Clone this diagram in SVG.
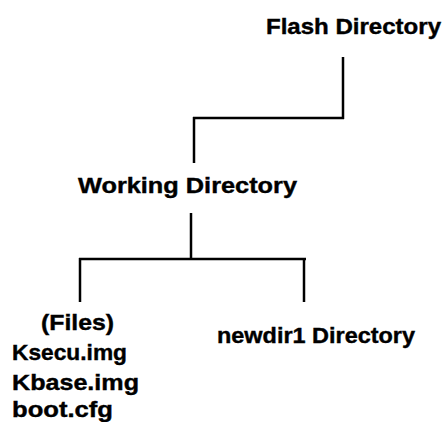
<svg xmlns="http://www.w3.org/2000/svg" width="448" height="422" viewBox="0 0 448 422">
<style>
text{font-family:"Liberation Sans",Arial,sans-serif;font-weight:bold;font-size:22px;fill:#000;stroke:#000;stroke-width:0.4}
.c line{stroke:#000;stroke-width:2.5;fill:none}
</style>
<rect width="448" height="422" fill="#fff"/>
<g class="c" id="connectors">
<line x1="343" y1="57" x2="343" y2="119"/>
<line x1="193" y1="118" x2="344" y2="118"/>
<line x1="194" y1="117" x2="194" y2="163"/>
<line x1="191" y1="213" x2="191" y2="259"/>
<line x1="79" y1="259" x2="306" y2="259"/>
<line x1="80" y1="258" x2="80" y2="302"/>
<line x1="304" y1="258" x2="304" y2="302"/>
</g>
<g id="flash"><text x="266" y="34" textLength="175" lengthAdjust="spacingAndGlyphs">Flash Directory</text></g>
<g id="working"><text x="78" y="193" textLength="219" lengthAdjust="spacingAndGlyphs">Working Directory</text></g>
<g id="files">
<text x="41" y="330" textLength="73" lengthAdjust="spacingAndGlyphs">(Files)</text>
<text x="12" y="360" textLength="115" lengthAdjust="spacingAndGlyphs">Ksecu.img</text>
<text x="12" y="390" textLength="127" lengthAdjust="spacingAndGlyphs">Kbase.img</text>
<text x="12" y="417" textLength="101" lengthAdjust="spacingAndGlyphs">boot.cfg</text>
</g>
<g id="newdir1"><text x="217" y="343" textLength="198" lengthAdjust="spacingAndGlyphs">newdir1 Directory</text></g>
</svg>
